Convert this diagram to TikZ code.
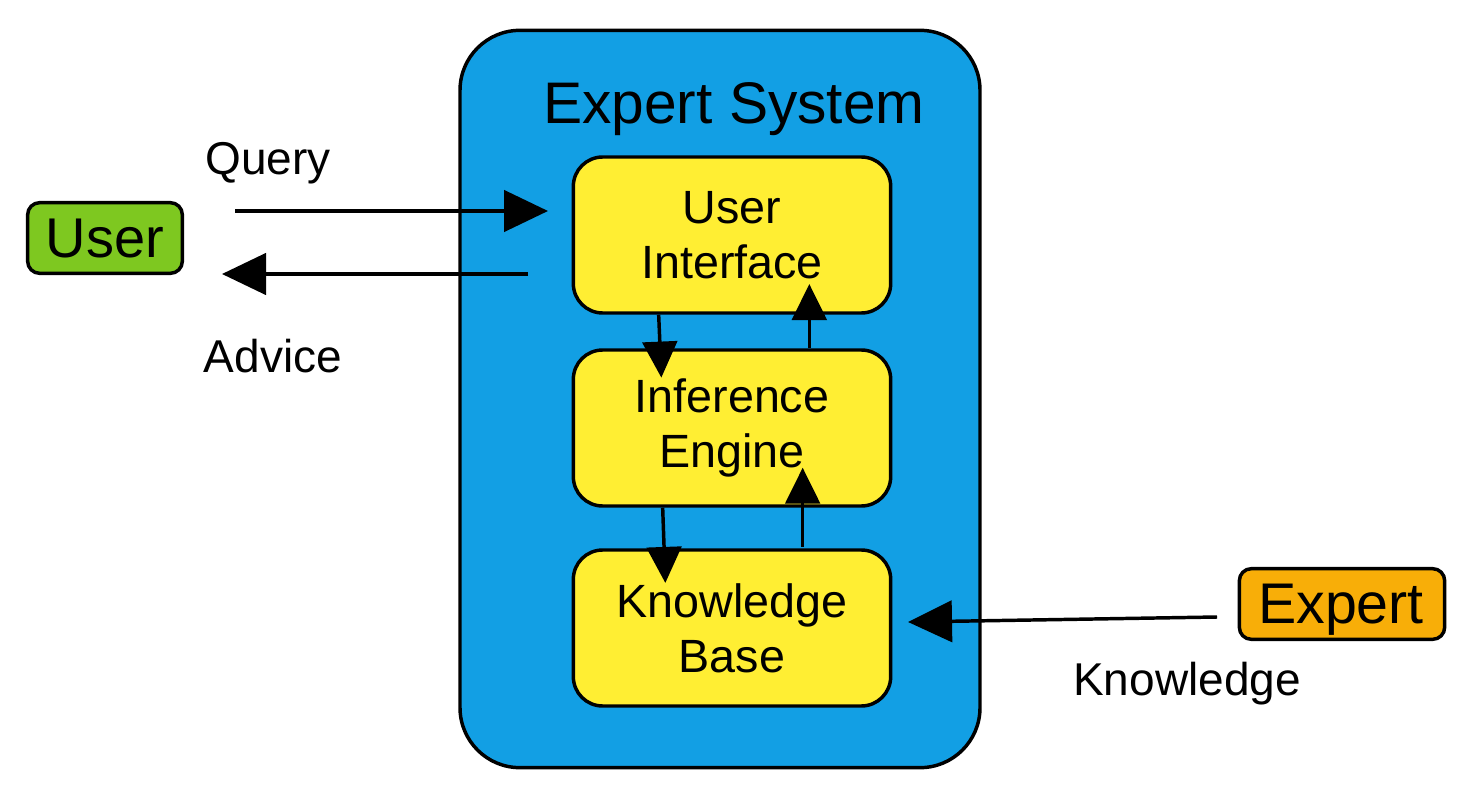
\documentclass[tikz,border=0pt]{standalone}
\usepackage{fontspec}
\setmainfont{Liberation Sans}
\usetikzlibrary{arrows.meta,positioning}
\definecolor{sysblue}{HTML}{129FE4}
\definecolor{partyellow}{HTML}{FFEE33}
\definecolor{usergreen}{HTML}{7EC820}
\definecolor{expertorange}{HTML}{F8AE08}
\tikzset{
  sysbox/.style={draw, line width=2.6pt, fill=sysblue, rounded corners=45pt,
    minimum width=390pt, minimum height=553pt},
  part/.style={draw, line width=2.6pt, fill=partyellow, rounded corners=22pt,
    minimum width=238pt, minimum height=117pt, align=center,
    font=\fontsize{35}{41.25}\selectfont},
  actor/.style={draw, line width=2.6pt, rounded corners=9pt, inner sep=0pt,
    minimum height=53pt},
  lbl/.style={anchor=base, font=\fontsize{34.5}{40}\selectfont},
  flow/.style={line width=2.6pt, -{Triangle[length=33pt,width=31pt]}},
  innerflow/.style={line width=2.6pt, -{Triangle[length=27pt,width=26pt]}}
}

\begin{document}
\begin{tikzpicture}[x=0.75pt,y=-0.75pt]
\useasboundingbox (0,0) rectangle (1473,798);
% expert system frame
\node[sysbox] (sys) at (720,399) {};
\node[anchor=base, font=\fontsize{44}{52}\selectfont] (title) at (734,124) {Expert System};
% components
\node[part] (ui) at (732,235) {User\\Interface};
\node[part] (ie) at (732,428) {Inference\\Engine};
\node[part] (kb) at (732,628) {Knowledge\\Base};
% actors
\node[actor, fill=usergreen, minimum width=116pt] (user) at (105,238) {};
\node[anchor=base, font=\fontsize{42}{48}\selectfont] (usertext) at (105,258) {User};
\node[actor, fill=expertorange, minimum width=154pt] (expert) at (1342,604) {};
\node[anchor=base, font=\fontsize{43}{50}\selectfont] (experttext) at (1341,623) {Expert};
% labels
\node[lbl] (query) at (268,175) {Query};
\node[lbl] (advice) at (273,373) {Advice};
\node[lbl] (knowledge) at (1187,695) {Knowledge};
% outside arrows
\coordinate (qs) at (235,211);
\coordinate (qe) at (548,211);
\coordinate (as) at (528,274);
\coordinate (ae) at (222,274);
\coordinate (ks) at (1217,617);
\coordinate (ke) at (908,622);
\draw[flow] (qs) -- (qe);
\draw[flow] (as) -- (ae);
\draw[flow] (ks) -- (ke);
% inside arrows
\draw[innerflow] ([xshift=-55pt]ui.south) -- ([xshift=-53pt,yshift=-22pt]ie.north);
\draw[innerflow] ([xshift=58pt]ie.north) -- ([xshift=58pt,yshift=23pt]ui.south);
\draw[innerflow] ([xshift=-52pt]ie.south) -- ([xshift=-50pt,yshift=-26pt]kb.north);
\draw[innerflow] ([xshift=53pt,yshift=1pt]kb.north) -- ([xshift=53pt,yshift=30pt]ie.south);
\end{tikzpicture}
\end{document}
